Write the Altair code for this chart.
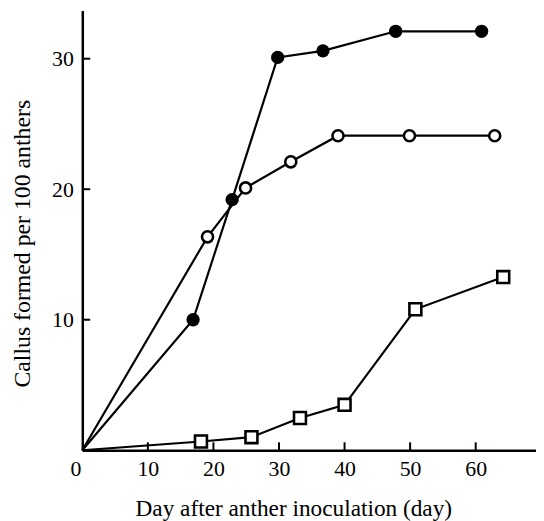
import altair as alt
import pandas as pd

# ---- data ----
filled_day = [0, 16.9, 22.85, 29.8, 36.7, 47.8, 60.9]
filled_val = [0, 10.0, 19.2, 30.1, 30.6, 32.1, 32.1]
open_day = [0, 19.1, 24.9, 31.8, 39.0, 49.9, 62.9]
open_val = [0, 16.35, 20.1, 22.1, 24.1, 24.1, 24.1]
square_day = [0, 18.1, 25.8, 33.2, 40.0, 50.8, 64.2]
square_val = [0, 0.67, 1.0, 2.47, 3.48, 10.8, 13.27]
x_ticks = [0, 10, 20, 30, 40, 50, 60]
y_ticks = [10, 20, 30]
x_title = "Day after anther inoculation (day)"
y_title = "Callus formed per 100 anthers"

FONT = "Liberation Serif"
W, H = 458, 444
X_MAX, Y_MAX = 69.2, 33.7
TICK_PX = 8


def frame(name, days, vals):
    return pd.DataFrame({"series": name, "day": days, "val": vals})


df = pd.concat([
    frame("filled", filled_day, filled_val),
    frame("open", open_day, open_val),
    frame("square", square_day, square_val),
], ignore_index=True)

xs = alt.Scale(domain=[0, X_MAX], nice=False, zero=False)
ys = alt.Scale(domain=[0, Y_MAX], nice=False, zero=False)

x_axis = alt.Axis(
    values=x_ticks, ticks=False, tickSize=0, grid=False,
    domainColor="black", domainWidth=2.5,
    labelFont=FONT, labelFontSize=22, labelColor="black", labelPadding=8,
    labelFlush=False, labelOverlap=False,
    labelOffset={"condition": {"test": "datum.value === 0", "value": -7}, "value": 0},
    title=x_title, titleFont=FONT, titleFontSize=23.5, titleFontWeight="normal",
    titleColor="black", titleX=213, titleY=59, titleBaseline="middle", titleAlign="center",
)
y_axis = alt.Axis(
    values=y_ticks, ticks=False, tickSize=0, grid=False,
    domainColor="black", domainWidth=2.5,
    labelFont=FONT, labelFontSize=22, labelColor="black", labelPadding=9,
    labelFlush=False, labelOverlap=False,
    title=y_title, titleFont=FONT, titleFontSize=24, titleFontWeight="normal",
    titleColor="black", titleX=-60, titleY=235, titleBaseline="middle", titleAlign="center",
    titleAngle=270,
)

lines = alt.Chart(df).mark_line(color="black", strokeWidth=2.2).encode(
    x=alt.X("day:Q", scale=xs, axis=x_axis),
    y=alt.Y("val:Q", scale=ys, axis=y_axis),
    detail="series:N",
)

# inward tick marks: centred half a tick length inside the axis
half_ty = (TICK_PX / 2) * Y_MAX / H
half_tx = (TICK_PX / 2) * X_MAX / W
xt_df = pd.DataFrame({"day": x_ticks[1:]})
xt_df["val"] = half_ty
yt_df = pd.DataFrame({"val": y_ticks})
yt_df["day"] = half_tx

xt = alt.Chart(xt_df).mark_tick(
    orient="vertical", size=TICK_PX, thickness=2, color="black", opacity=1
).encode(x=alt.X("day:Q", scale=xs), y=alt.Y("val:Q", scale=ys))
yt = alt.Chart(yt_df).mark_tick(
    orient="horizontal", size=TICK_PX, thickness=2, color="black", opacity=1
).encode(x=alt.X("day:Q", scale=xs), y=alt.Y("val:Q", scale=ys))

pts = alt.Chart(df).transform_filter("datum.day > 0")
enc = dict(x=alt.X("day:Q", scale=xs), y=alt.Y("val:Q", scale=ys))

filled_pts = pts.transform_filter("datum.series == 'filled'").mark_point(
    shape="circle", filled=True, size=180, color="black", opacity=1
).encode(**enc)
open_pts = pts.transform_filter("datum.series == 'open'").mark_point(
    shape="circle", filled=False, fill="white", fillOpacity=1, stroke="black",
    strokeWidth=2.6, size=125, opacity=1
).encode(**enc)
square_pts = pts.transform_filter("datum.series == 'square'").mark_point(
    shape="square", filled=False, fill="white", fillOpacity=1, stroke="black",
    strokeWidth=2.6, size=145, opacity=1
).encode(**enc)

chart = alt.layer(lines, xt, yt, filled_pts, open_pts, square_pts).properties(
    width=W, height=H,
    padding={"left": 75, "top": 0, "right": 0, "bottom": 70},
    autosize=alt.AutoSizeParams(type="none"),
    background="white",
).configure_view(stroke=None)

chart.save("out.html", embed_options={"renderer": "svg", "actions": False})
